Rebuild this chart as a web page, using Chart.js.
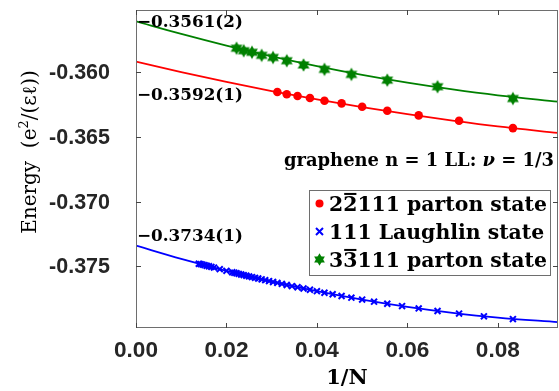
<!DOCTYPE html>
<html><head><meta charset="utf-8">
<script src="https://cdn.jsdelivr.net/npm/chart.js@4.4.0/dist/chart.umd.min.js"></script>
<style>html,body{margin:0;padding:0;background:#fff;overflow:hidden}#wrap{width:559px;height:391px}</style>
</head><body><div id="wrap"><canvas id="c" width="559" height="391"></canvas></div>
<script>
// ---- data ----
const partonN = [12, 14, 16, 18, 20, 22, 24, 26, 28, 30, 32];
const partonE = [-0.36433, -0.36376, -0.36335, -0.36299, -0.36268, -0.36242, -0.36222, -0.36201, -0.36185, -0.36172, -0.36155];

const laughlinN = [12,13,14,15,16,17,18,19,20,21,22,23,24,25,26,27,28,29,30,31,32,33,34,35,36,37,38,39,40,41,42,43,44,45,46,47,50,54,58,60,62,64,66,68,70,72];
const laughlinE = [-0.37906,-0.37885,-0.37864,-0.37844,-0.37824,-0.37806,-0.37788,-0.37772,-0.37756,-0.37741,-0.37728,-0.37715,-0.37703,-0.37691,-0.37680,-0.37670,-0.37661,-0.37652,-0.37643,-0.37635,-0.37627,-0.37620,-0.37613,-0.37606,-0.37600,-0.37593,-0.37588,-0.37582,-0.37577,-0.37572,-0.37567,-0.37562,-0.37558,-0.37553,-0.37549,-0.37545,-0.37534,-0.37521,-0.37509,-0.37504,-0.37499,-0.37495,-0.37490,-0.37486,-0.37482,-0.37479];

const parton3N = [12, 15, 18, 21, 24, 27, 30, 33, 36, 39, 42, 45];
const parton3E = [-0.36205, -0.36114, -0.36063, -0.36019, -0.35980, -0.35946, -0.35913, -0.35888, -0.35872, -0.35848, -0.35836, -0.35817];

// fitted curves, sampled along 1/N
const fitX = [0, 0.01, 0.02, 0.03, 0.04, 0.05, 0.06, 0.07, 0.08, 0.0933];
const partonFit   = [-0.3592, -0.36001, -0.36076, -0.36147, -0.36212, -0.36272, -0.36326, -0.36375, -0.36420, -0.36470];
const laughlinFit = [-0.3734, -0.37442, -0.37534, -0.37617, -0.37691, -0.37756, -0.37812, -0.37858, -0.37895, -0.37930];
const parton3Fit  = [-0.3561, -0.35707, -0.35797, -0.35880, -0.35955, -0.36023, -0.36083, -0.36135, -0.36180, -0.36229];

const xTicks = [0, 0.02, 0.04, 0.06, 0.08];
const yTicks = [-0.360, -0.365, -0.370, -0.375];
const xTickLabels = ["0.00", "0.02", "0.04", "0.06", "0.08"];
const yTickLabels = ["-0.360", "-0.365", "-0.370", "-0.375"];
const xRange = [0, 0.0933];
const yRange = [-0.37975, -0.35522];

const interceptLabels = ["\u22120.3561(2)", "\u22120.3592(1)", "\u22120.3734(1)"];
const interceptValues = [-0.3561, -0.3592, -0.3734];
const legendLabels = [["2", "2", "111 parton state"], ["", "", "111 Laughlin state"], ["3", "3", "111 parton state"]];
const annotation = ["graphene n = 1 LL: ", "\u03bd", " = 1/3"];
const xTitle = "1/N";
const yTitle = ["Energy  (e", "2", "/(\u03b5\u2113))"];

const RED = "#ff0000", BLUE = "#0000ff", GREEN = "#008000";

// hexagram marker
function hexagram(r, color) {
  const c = document.createElement("canvas");
  const s = Math.ceil(2 * r + 2);
  c.width = s; c.height = s;
  const g = c.getContext("2d");
  g.fillStyle = color;
  const cx = s / 2, cy = s / 2;
  [[-90, 30, 150], [90, 210, 330]].forEach(a => {
    g.beginPath();
    a.forEach((d, i) => {
      const t = d * Math.PI / 180;
      const x = cx + r * Math.cos(t), y = cy + r * Math.sin(t);
      i ? g.lineTo(x, y) : g.moveTo(x, y);
    });
    g.closePath(); g.fill();
  });
  return c;
}
const starImg = hexagram(6.8, GREEN);
const starLegend = hexagram(6.2, GREEN);

const pts = (N, E) => N.map((n, i) => ({ x: 1 / n, y: E[i] }));
const line = (X, Y) => X.map((x, i) => ({ x: x, y: Y[i] }));

const SERIF = '"DejaVu Serif", "Liberation Serif", serif';
const SANS = '"Liberation Sans", Arial, sans-serif';

function fitSize(ctx, text, weight, family, target) {
  ctx.font = weight + " 20px " + family;
  return 20 * target / ctx.measureText(text).width;
}
function zeroPad(s) { s.paddingTop = 0; s.paddingBottom = 0; s.paddingLeft = 0; s.paddingRight = 0; }

const decor = {
  id: "decor",
  afterDraw(chart) {
    const ctx = chart.ctx, a = chart.chartArea;
    const xs = chart.scales.x, ys = chart.scales.y;
    ctx.save();
    // frame
    ctx.strokeStyle = "#6e6e6e"; ctx.lineWidth = 1;
    ctx.strokeRect(a.left + 0.5, a.top + 0.5, a.right - a.left - 1, a.bottom - a.top - 1);
    // inward ticks
    ctx.strokeStyle = "#444"; ctx.beginPath();
    xTicks.forEach(v => {
      const p = Math.round(xs.getPixelForValue(v)) + 0.5;
      ctx.moveTo(p, a.bottom); ctx.lineTo(p, a.bottom - 5);
      ctx.moveTo(p, a.top); ctx.lineTo(p, a.top + 5);
    });
    yTicks.forEach(v => {
      const p = Math.round(ys.getPixelForValue(v)) + 0.5;
      ctx.moveTo(a.left, p); ctx.lineTo(a.left + 5, p);
      ctx.moveTo(a.right, p); ctx.lineTo(a.right - 5, p);
    });
    ctx.stroke();

    // tick labels
    ctx.fillStyle = "#262626";
    ctx.textBaseline = "middle";
    xTicks.forEach((v, i) => {
      const sz = fitSize(ctx, xTickLabels[i], "bold", SANS, 44);
      ctx.font = "bold " + sz.toFixed(2) + "px " + SANS;
      ctx.textAlign = "center";
      ctx.fillText(xTickLabels[i], xs.getPixelForValue(v), a.bottom + 23);
    });
    yTicks.forEach((v, i) => {
      const sz = fitSize(ctx, yTickLabels[i], "bold", SANS, 61);
      ctx.font = "bold " + sz.toFixed(2) + "px " + SANS;
      ctx.textAlign = "right";
      ctx.fillText(yTickLabels[i], a.left - 26, ys.getPixelForValue(v) + 1);
    });

    ctx.fillStyle = "#000";
    ctx.textBaseline = "alphabetic";
    // intercept labels
    const dy = [6, 38, -5];
    interceptLabels.forEach((t, i) => {
      const sz = fitSize(ctx, t, "bold", SERIF, 106);
      ctx.font = "bold " + sz.toFixed(2) + "px " + SERIF;
      ctx.textAlign = "left";
      const y = ys.getPixelForValue(interceptValues[i]);
      ctx.fillText(t, a.left + 1, y + dy[i]);
    });

    // annotation
    {
      const full = annotation.join("");
      const sz = fitSize(ctx, full, "bold", SERIF, 270);
      let x = 284; const y = 166;
      annotation.forEach((t, i) => {
        ctx.font = (i === 1 ? "italic bold " : "bold ") + sz.toFixed(2) + "px " + SERIF;
        ctx.textAlign = "left";
        ctx.fillText(t, x, y);
        x += ctx.measureText(t).width;
      });
    }

    // legend
    {
      const bx = 309.5, by = 190.5, bw = 241, bh = 85;
      ctx.fillStyle = "#fff"; ctx.fillRect(bx, by, bw, bh);
      ctx.strokeStyle = "#6e6e6e"; ctx.lineWidth = 1; ctx.strokeRect(bx, by, bw, bh);
      const rowY = [203.5, 231.5, 259.5];
      const sz = fitSize(ctx, "22111 parton state", "bold", SERIF, 218);
      ctx.font = "bold " + sz.toFixed(2) + "px " + SERIF;
      legendLabels.forEach((parts, i) => {
        const y = rowY[i];
        const mx = 319.5;
        if (i === 0) {
          ctx.fillStyle = RED; ctx.beginPath(); ctx.arc(mx, y, 4, 0, Math.PI * 2); ctx.fill();
        } else if (i === 1) {
          ctx.strokeStyle = BLUE; ctx.lineWidth = 2; ctx.beginPath();
          ctx.moveTo(mx - 3.5, y - 3.5); ctx.lineTo(mx + 3.5, y + 3.5);
          ctx.moveTo(mx + 3.5, y - 3.5); ctx.lineTo(mx - 3.5, y + 3.5); ctx.stroke();
        } else {
          ctx.drawImage(starLegend, mx - starLegend.width / 2, y - starLegend.height / 2);
        }
        ctx.fillStyle = "#000"; ctx.textAlign = "left";
        let x = 329; const base = y + 7;
        const w0 = ctx.measureText(parts[0]).width;
        ctx.fillText(parts[0], x, base); x += w0;
        if (parts[1]) {
          const w1 = ctx.measureText(parts[1]).width;
          ctx.fillText(parts[1], x, base);
          ctx.fillRect(x + 1, base - sz * 0.86, w1 - 2, 2);
          x += w1;
        }
        ctx.fillText(parts[2], x, base);
      });
    }

    // axis titles
    ctx.fillStyle = "#000";
    ctx.font = "bold 21px " + SERIF; ctx.textAlign = "center";
    ctx.fillText(xTitle, (a.left + a.right) / 2, 384);

    ctx.save();
    ctx.translate(36, 152);
    ctx.rotate(-Math.PI / 2);
    ctx.font = "20px " + SERIF;
    const w0 = ctx.measureText(yTitle[0]).width;
    ctx.font = "13px " + SERIF;
    const w1 = ctx.measureText(yTitle[1]).width;
    ctx.font = "20px " + SERIF;
    const w2 = ctx.measureText(yTitle[2]).width;
    let x = -(w0 + w1 + w2) / 2;
    ctx.textAlign = "left";
    ctx.fillText(yTitle[0], x, 0); x += w0;
    ctx.font = "13px " + SERIF; ctx.fillText(yTitle[1], x, -8); x += w1;
    ctx.font = "20px " + SERIF; ctx.fillText(yTitle[2], x, 0);
    ctx.restore();

    ctx.restore();
  }
};

new Chart(document.getElementById("c"), {
  type: "scatter",
  data: {
    datasets: [
      { data: pts(partonN, partonE), pointStyle: "circle", pointRadius: 4.3, backgroundColor: RED, borderColor: RED, borderWidth: 0, showLine: false },
      { data: pts(laughlinN, laughlinE), pointStyle: "crossRot", pointRadius: 4.2, borderColor: BLUE, backgroundColor: BLUE, borderWidth: 2, showLine: false },
      { data: pts(parton3N, parton3E), pointStyle: starImg, pointRadius: 7, backgroundColor: GREEN, borderColor: GREEN, showLine: false },
      { data: line(fitX, partonFit), showLine: true, pointRadius: 0, borderColor: RED, borderWidth: 1.8, cubicInterpolationMode: "monotone" },
      { data: line(fitX, laughlinFit), showLine: true, pointRadius: 0, borderColor: BLUE, borderWidth: 1.8, cubicInterpolationMode: "monotone" },
      { data: line(fitX, parton3Fit), showLine: true, pointRadius: 0, borderColor: GREEN, borderWidth: 1.8, cubicInterpolationMode: "monotone" }
    ]
  },
  options: {
    responsive: false, animation: false, devicePixelRatio: 1,
    layout: { autoPadding: false, padding: { top: 10, right: 1, left: 0, bottom: 0 } },
    plugins: { legend: { display: false }, tooltip: { enabled: false } },
    scales: {
      x: {
        type: "linear", min: xRange[0], max: xRange[1],
        grid: { display: false, drawTicks: false }, border: { display: false },
        afterBuildTicks: s => { s.ticks = xTicks.map(v => ({ value: v })); },
        afterFit: s => { s.height = 63; zeroPad(s); },
        ticks: { display: false }
      },
      y: {
        type: "linear", min: yRange[0], max: yRange[1],
        grid: { display: false, drawTicks: false }, border: { display: false },
        afterBuildTicks: s => { s.ticks = yTicks.map(v => ({ value: v })); },
        afterFit: s => { s.width = 136; zeroPad(s); },
        ticks: { display: false }
      }
    }
  },
  plugins: [decor]
});
</script></body></html>
